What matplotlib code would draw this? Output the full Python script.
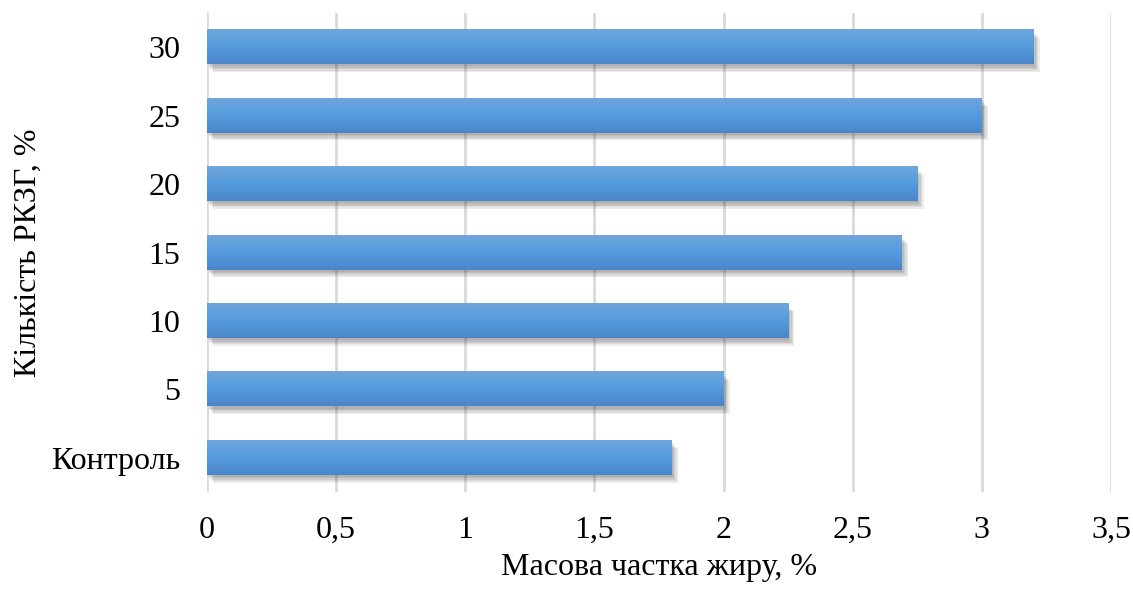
import numpy as np
import matplotlib.pyplot as plt
import matplotlib.patheffects as pe
from matplotlib.colors import LinearSegmentedColormap

categories = ['Контроль', '5', '10', '15', '20', '25', '30']
fat_share = [1.8, 2.0, 2.25, 2.69, 2.75, 3.0, 3.2]
x_ticks = [0, 0.5, 1, 1.5, 2, 2.5, 3, 3.5]
x_tick_labels = ['0', '0,5', '1', '1,5', '2', '2,5', '3', '3,5']

plt.rcParams['font.family'] = ['Liberation Serif', 'DejaVu Serif']

fig = plt.figure(figsize=(11.33, 5.94), dpi=100)
ax = fig.add_axes([0.1827, 0.1717, 0.7979, 0.8064])

# soft shadow: a stack of faint offset copies
shadow = [pe.SimplePatchShadow(offset=(d, -d - 1), shadow_rgbFace='#333333', alpha=0.09)
          for d in (0.5, 1.5, 2.5, 3.5, 4.5)]

y = np.arange(len(categories))
bars = ax.barh(y, fat_share, height=0.5, color='#5597d8', zorder=2,
               path_effects=shadow + [pe.Normal()])

# vertical gradient inside each bar
cmap = LinearSegmentedColormap.from_list('bar', ['#4a86c9', '#549bdd', '#6fa6dc'])
grad = np.linspace(0, 1, 64).reshape(-1, 1)
for b in bars:
    x0, y0 = b.get_x(), b.get_y()
    w, h = b.get_width(), b.get_height()
    ax.imshow(grad, cmap=cmap, aspect='auto', origin='lower',
              extent=(x0, x0 + w, y0, y0 + h), zorder=3)

ax.set_xlim(0, 3.5)
ax.set_ylim(-0.5, len(categories) - 0.5)
ax.set_xticks(x_ticks)
ax.set_xticklabels(x_tick_labels)
ax.set_yticks(y)
ax.set_yticklabels(categories)
ax.tick_params(length=0, labelsize=23, pad=17)
ax.tick_params(axis='y', pad=19)
ax.grid(axis='x', color='#d9d9d9', linewidth=2, zorder=0)
ax.set_axisbelow(True)
for s in ax.spines.values():
    s.set_visible(False)

ax.set_xlabel('Масова частка жиру, %', fontsize=23, labelpad=6)
ax.set_ylabel('Кількість РКЗГ, %', fontsize=23, labelpad=6)

fig.savefig('out.png', dpi=100)
